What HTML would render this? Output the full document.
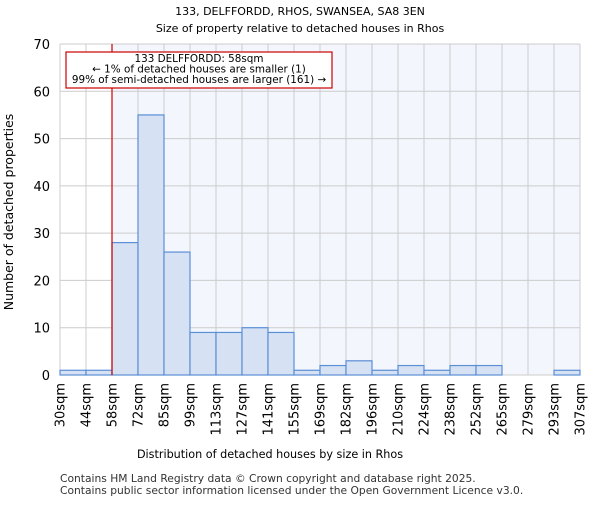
<!DOCTYPE html>
<html><head><meta charset="utf-8"><style>
body{margin:0;background:#fff;font-family:"Liberation Sans","DejaVu Sans",sans-serif}
</style></head><body>
<svg id="c" width="600" height="500" xmlns="http://www.w3.org/2000/svg" font-family="DejaVu Sans, Liberation Sans, sans-serif">
<text x="300" y="15" text-anchor="middle" font-size="11">133, DELFFORDD, RHOS, SWANSEA, SA8 3EN</text>
<text x="300" y="32" text-anchor="middle" font-size="11">Size of property relative to detached houses in Rhos</text>
<g id="plot"></g>
<text x="270" y="458" text-anchor="middle" font-size="11.2">Distribution of detached houses by size in Rhos</text>
<text transform="translate(13,212) rotate(-90)" text-anchor="middle" font-size="12.5">Number of detached properties</text>
<text x="60" y="482" font-size="10.7" fill="#333">Contains HM Land Registry data © Crown copyright and database right 2025.</text>
<text x="60" y="494" font-size="10.7" fill="#333">Contains public sector information licensed under the Open Government Licence v3.0.</text>
</svg>
<script>
const categories=["30sqm","44sqm","58sqm","72sqm","85sqm","99sqm","113sqm","127sqm","141sqm","155sqm","169sqm","182sqm","196sqm","210sqm","224sqm","238sqm","252sqm","265sqm","279sqm","293sqm","307sqm"];
const counts=[1,1,28,55,26,9,9,10,9,1,2,3,1,2,1,2,2,0,0,1];
const yTicks=[0,10,20,30,40,50,60,70];
const markerBin=2;
const NS="http://www.w3.org/2000/svg";
const g=document.getElementById("plot");
const X0=60,X1=580,Y0=375,Y1=44,yMax=70;
const bw=(X1-X0)/counts.length;
const x=i=>X0+i*bw;
const y=v=>Y0-(v/yMax)*(Y0-Y1);
function mk(t,a){const e=document.createElementNS(NS,t);for(const k in a)e.setAttribute(k,a[k]);g.appendChild(e);return e;}
let e=mk("rect",{x:X0,y:Y1,width:X1-X0,height:Y0-Y1,fill:"#fff"});


e=mk("rect",{x:x(markerBin),y:Y1,width:X1-x(markerBin),height:Y0-Y1,fill:"#f3f6fd"});


for(let i=0;i<=counts.length;i++){
 e=mk("line",{x1:x(i),x2:x(i),y1:Y1,y2:Y0,stroke:"#cccccc"});
 
 
 e=mk("text",{transform:`translate(${x(i)+4.5},${Y0+8}) rotate(-90)`,"text-anchor":"end","font-size":"13"});
 e.textContent=categories[i];
 
 
}
yTicks.forEach(t=>{
 e=mk("line",{x1:X0,x2:X1,y1:y(t),y2:y(t),stroke:"#cccccc"});
 
 
 e=mk("text",{x:X0-10,y:y(t)+5,"text-anchor":"end","font-size":"13"});
 e.textContent=t;
 
 
});
counts.forEach((v,i)=>{
 if(v<=0)return;
 e=mk("rect",{x:x(i),y:y(v),width:bw,height:Y0-y(v),fill:"#d6e1f3",stroke:"#5b8fd6","stroke-width":1.2});
 
 
});
e=mk("line",{x1:x(markerBin),x2:x(markerBin),y1:Y1,y2:Y0,stroke:"#cc0000","stroke-width":1.2});


e=mk("rect",{x:66,y:52,width:266,height:36,fill:"#fff",stroke:"#cc0000","stroke-width":1.2});


["133 DELFFORDD: 58sqm","← 1% of detached houses are smaller (1)","99% of semi-detached houses are larger (161) →"].forEach((s,k)=>{
 e=mk("text",{x:199,y:62+k*10.5,"text-anchor":"middle","font-size":"10.4"});
 e.textContent=s;
 
 
});
</script>
</body></html>
